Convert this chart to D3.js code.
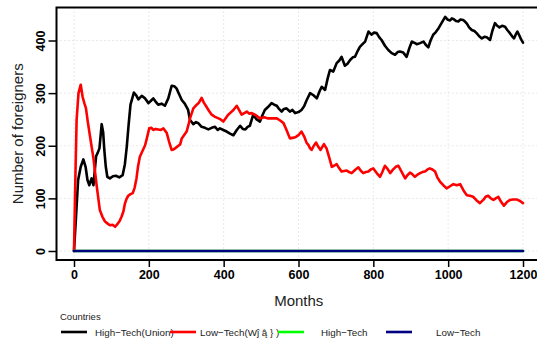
<!DOCTYPE html>
<html>
<head>
<meta charset="utf-8">
<script src="https://cdn.jsdelivr.net/npm/d3@7/dist/d3.min.js"></script>
<style>
  html, body { margin: 0; padding: 0; background: #fff; }
  svg { display: block; font-family: "Liberation Sans", Arial, Helvetica, sans-serif; }
</style>
</head>
<body>
<svg id="chart" width="537" height="343"></svg>
<script>
// Tick values
const xTicks = [0, 200, 400, 600, 800, 1000, 1200];
const yTicks = [0, 100, 200, 300, 400];

// Legend entries
const seriesNames = ["High\u2212Tech(Union)", "Low\u2212Tech(W\u0135 \u0105\u0302 } )", "High\u2212Tech", "Low\u2212Tech"];
const seriesColors = ["#000000", "#ff0000", "#00ff00", "#000080"];

// High-Tech (Union)
const unionHighMonths = [0,5,11,18,25,31,36,41,47,52,59,63,68,74,78,81,85,89,96,104,112,121,130,136,141,146,151,160,166,172,181,190,199,205,212,218,225,234,243,252,261,268,274,281,288,296,305,310,319,326,332,341,350,359,368,377,384,390,399,408,417,426,435,444,451,458,464,470,479,488,497,503,510,519,528,535,542,548,555,561,568,577,584,591,600,608,615,622,631,640,649,656,662,671,678,684,693,702,709,715,724,731,738,745,751,758,764,771,778,787,795,802,809,816,822,831,840,849,858,865,871,880,889,896,903,909,916,925,934,940,947,953,960,967,974,983,992,998,1005,1010,1016,1021,1027,1033,1040,1045,1050,1056,1063,1070,1076,1083,1090,1097,1103,1112,1118,1125,1131,1137,1144,1152,1158,1165,1171,1176,1181,1185,1190,1195,1200];
const unionHighValues = [0,60,135,160,174,160,135,125,138,125,180,186,195,241,225,192,160,141,138,142,143,140,144,165,198,240,278,301,296,288,295,290,281,285,290,284,278,280,276,290,314,313,309,298,287,280,268,249,241,245,243,236,234,231,234,236,230,233,230,227,223,220,230,238,232,231,236,238,259,250,246,257,268,274,281,278,276,270,265,270,271,265,268,262,264,268,275,287,300,296,290,303,312,306,328,344,341,357,362,369,352,356,363,368,369,380,388,393,398,417,411,415,414,406,401,390,382,376,373,378,379,377,369,385,398,396,393,395,398,392,387,400,411,416,423,434,445,440,438,442,440,437,436,440,439,436,432,425,420,418,414,408,404,407,406,401,418,433,428,425,428,426,420,414,408,404,412,417,410,402,396];

// Low-Tech (Union)
const unionLowMonths = [0,4,7,12,18,23,28,32,37,43,52,61,69,76,83,90,96,103,110,118,122,127,132,136,141,145,151,157,162,167,171,176,183,190,195,201,207,212,218,225,232,239,248,254,261,266,270,279,284,288,294,301,306,310,319,328,334,341,347,354,361,368,377,386,392,399,405,411,417,426,435,441,448,455,462,468,475,486,497,508,519,530,542,551,560,568,577,584,591,600,608,615,622,626,631,635,641,647,653,659,668,675,682,689,695,702,708,715,722,729,735,742,751,760,766,773,780,787,793,800,809,818,824,831,838,845,853,860,867,876,885,891,898,904,911,918,925,931,938,945,951,958,965,971,978,987,996,1005,1014,1023,1032,1041,1050,1058,1067,1076,1085,1095,1100,1107,1114,1121,1127,1134,1141,1149,1157,1165,1173,1183,1192,1200];
const unionLowValues = [0,150,249,300,316,293,280,271,245,217,176,122,78,65,56,52,49,50,46,53,57,65,75,90,100,105,108,110,120,138,160,179,190,201,215,233,234,230,232,231,230,233,224,208,192,193,195,200,203,214,220,227,240,252,271,278,282,291,282,274,266,259,255,252,250,246,252,258,262,268,276,268,259,262,265,261,262,258,252,254,252,252,252,248,243,230,214,215,216,220,227,218,205,202,195,192,200,206,198,192,203,195,178,160,162,165,158,151,152,153,150,148,154,159,153,148,150,151,155,157,148,141,150,162,156,148,155,160,162,150,138,144,149,146,141,145,148,150,151,155,157,155,151,140,132,125,119,123,127,125,127,115,106,105,103,96,91,98,103,105,100,97,100,103,94,86,93,97,98,98,95,91];

// High-Tech and Low-Tech (outside the union)
const otherMonths = [0, 1200];
const otherHighValues = [0, 0];
const otherLowValues = [0, 0];

const svg = d3.select("#chart");

// Panel box
const panel = { left: 56.5, right: 541, top: 7.5, bottom: 260 };

const x = d3.scaleLinear().domain([0, 1200]).range([74, 523]);
const y = d3.scaleLinear().domain([0, 400]).range([251, 40.5]);

// Dotted grid
const grid = svg.append("g").attr("stroke", "#d3d3d3").attr("stroke-dasharray", "1,3").attr("stroke-width", 1);
xTicks.forEach(t => grid.append("line")
  .attr("x1", x(t)).attr("x2", x(t)).attr("y1", panel.top).attr("y2", panel.bottom));
yTicks.forEach(t => grid.append("line")
  .attr("x1", panel.left).attr("x2", panel.right).attr("y1", y(t)).attr("y2", y(t)));

// Series lines
const series = [
  { months: unionHighMonths, values: unionHighValues, color: seriesColors[0] },
  { months: unionLowMonths, values: unionLowValues, color: seriesColors[1] },
  { months: otherMonths, values: otherHighValues, color: seriesColors[2] },
  { months: otherMonths, values: otherLowValues, color: seriesColors[3] }
];
const line = d3.line().x(d => x(d[0])).y(d => y(d[1]));
series.forEach(s => {
  svg.append("path")
    .datum(s.months.map((m, i) => [m, s.values[i]]))
    .attr("d", line)
    .attr("fill", "none")
    .attr("stroke", s.color)
    .attr("stroke-width", 2.6)
    .attr("stroke-linejoin", "round")
    .attr("stroke-linecap", "round");
});

// Frame
svg.append("rect")
  .attr("x", panel.left).attr("y", panel.top)
  .attr("width", panel.right - panel.left).attr("height", panel.bottom - panel.top)
  .attr("fill", "none").attr("stroke", "#000").attr("stroke-width", 2);

// Axes
const xAxis = svg.append("g")
  .attr("transform", `translate(0,${panel.bottom})`)
  .call(d3.axisBottom(x).tickValues(xTicks).tickSize(7).tickPadding(3).tickFormat(d3.format("d")));
xAxis.select(".domain").remove();
xAxis.selectAll("line").attr("stroke", "#000").attr("stroke-width", 1.5);
xAxis.selectAll("text").attr("font-size", 12.5).attr("font-weight", "bold").attr("fill", "#000")
  .attr("font-family", "Liberation Sans, Arial, sans-serif");

const yAxis = svg.append("g")
  .attr("transform", `translate(${panel.left},0)`)
  .call(d3.axisLeft(y).tickValues(yTicks).tickSize(8).tickFormat(d3.format("d")));
yAxis.select(".domain").remove();
yAxis.selectAll("line").attr("stroke", "#000").attr("stroke-width", 1.5);
yAxis.selectAll("text")
  .attr("font-size", 12.5).attr("font-weight", "bold").attr("fill", "#000")
  .attr("font-family", "Liberation Sans, Arial, sans-serif")
  .attr("x", null).attr("dy", null)
  .attr("text-anchor", "middle")
  .attr("transform", "translate(-12,0) rotate(-90)")
  .attr("dominant-baseline", "auto")
  .attr("y", 0);

// Axis titles
svg.append("text")
  .attr("x", (panel.left + panel.right) / 2).attr("y", 306)
  .attr("text-anchor", "middle").attr("font-size", 15).attr("fill", "#222")
  .text("Months");
svg.append("text")
  .attr("transform", `translate(23,${(panel.top + panel.bottom) / 2}) rotate(-90)`)
  .attr("text-anchor", "middle").attr("font-size", 15).attr("fill", "#222")
  .text("Number of foreigners");

// Legend
svg.append("text").attr("x", 60).attr("y", 320).attr("font-size", 9.5).attr("fill", "#222").text("Countries");
const keyX = [61, 170, 278, 386];
const labelX = [95, 200, 321, 436];
seriesNames.forEach((name, i) => {
  svg.append("line")
    .attr("x1", keyX[i]).attr("x2", keyX[i] + 26)
    .attr("y1", 332).attr("y2", 332)
    .attr("stroke", seriesColors[i]).attr("stroke-width", 2.6);
  svg.append("text")
    .attr("x", labelX[i]).attr("y", 335.5)
    .attr("font-size", 9.8).attr("fill", "#222")
    .text(name);
});
</script>
</body>
</html>
